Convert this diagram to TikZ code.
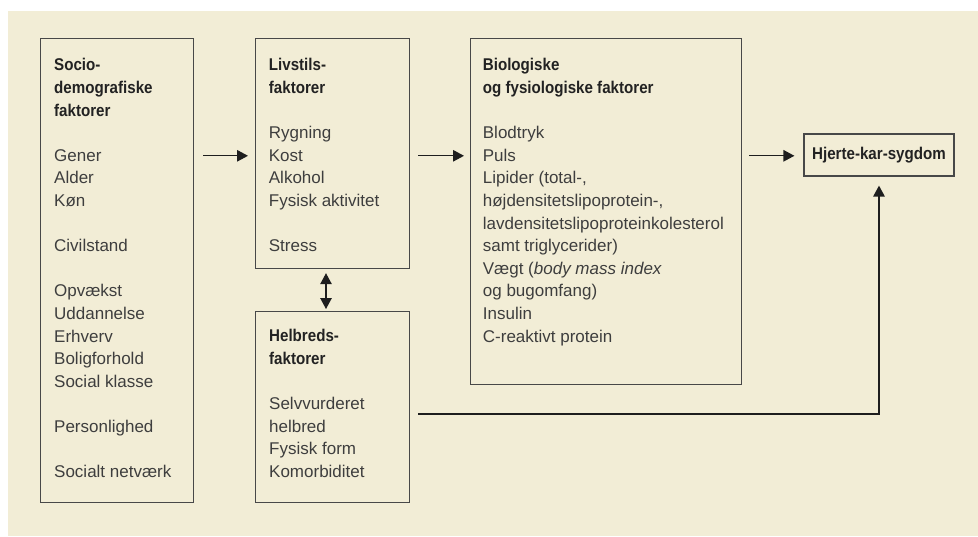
\documentclass[tikz,border=0pt]{standalone}
\usepackage{fontspec}
\setmainfont{Liberation Sans}[BoldFeatures={FakeStretch=0.89}]
\usetikzlibrary{arrows.meta}
\definecolor{bgcol}{RGB}{242,237,214}
\definecolor{txtcol}{RGB}{62,62,62}
\definecolor{hdcol}{RGB}{34,34,34}
\definecolor{boxcol}{RGB}{72,72,72}
\definecolor{arrcol}{RGB}{30,30,30}
\newcommand\hd[1]{{\color{hdcol}\bfseries #1}}
\newcommand\blank{\mbox{}}
\newcommand\fst{\rule{0pt}{16pt}}
\begin{document}
\begin{tikzpicture}[x=1pt,y=-1pt,
  boxnode/.style={draw=boxcol, line width=1.2pt, fill=bgcol, inner sep=0pt, anchor=north west},
  txtnode/.style={anchor=north west, inner sep=0pt, align=left, text=txtcol,
    font=\fontsize{17}{22.6}\selectfont},
  arr/.style={draw=arrcol, line width=1.3pt, -{Triangle[length=11pt,width=11.5pt]}},
  dbl/.style={draw=arrcol, line width=1.3pt, {Triangle[length=11pt,width=11.5pt]}-{Triangle[length=11pt,width=11.5pt]}}]
\useasboundingbox (0,0) rectangle (978,536);
\fill[white] (0,0) rectangle (978,536);
\fill[bgcol] (8,11) rectangle (978,536);

% boxes
\node[boxnode, minimum width=153pt, minimum height=464pt] (b1) at (40,38) {};
\node[boxnode, minimum width=153.7pt, minimum height=230pt] (b2) at (255,38) {};
\node[boxnode, minimum width=153.7pt, minimum height=191pt] (b3) at (255,311) {};
\node[boxnode, minimum width=271pt, minimum height=346pt] (b4) at (470,38) {};
\node[draw=boxcol, line width=1.2pt, fill=bgcol, inner sep=0pt,
  minimum width=150pt, minimum height=42pt,
  font=\fontsize{17}{22.6}\selectfont] (b5) at (879,155) {\hd{Hjerte-kar-sygdom}};

% texts
\node[txtnode] (t1) at (54,54.6) {\fst\hd{Socio-}\\\hd{demografiske}\\\hd{faktorer}\\\blank\\Gener\\Alder\\Køn\\\blank\\Civilstand\\\blank\\Opvækst\\Uddannelse\\Erhverv\\Boligforhold\\Social klasse\\\blank\\Personlighed\\\blank\\Socialt netværk};
\node[txtnode] (t2) at (268.7,54.6) {\fst\hd{Livstils-}\\\hd{faktorer}\\\blank\\Rygning\\Kost\\Alkohol\\Fysisk aktivitet\\\blank\\Stress};
\node[txtnode] (t3) at (269,325.7) {\fst\hd{Helbreds-}\\\hd{faktorer}\\\blank\\Selvvurderet\\helbred\\Fysisk form\\Komorbiditet};
\node[txtnode] (t4) at (482.7,54.6) {\fst\hd{Biologiske}\\\hd{og fysiologiske faktorer}\\\blank\\Blodtryk\\Puls\\Lipider (total-,\\højdensitetslipoprotein-,\\lavdensitetslipoproteinkolesterol\\samt triglycerider)\\Vægt (\textit{body mass index}\\og bugomfang)\\Insulin\\C-reaktivt protein};

% connectors
\coordinate (arow) at (0,155.8);
\coordinate (hrow) at (0,414);
\draw[arr, shorten <=9pt, shorten >=7pt] (b1.east |- arow) -- (b2.west |- arow);
\draw[arr, shorten <=8.3pt, shorten >=6pt] (b2.east |- arow) -- (b4.west |- arow);
\draw[arr, shorten <=7pt, shorten >=9pt] (b4.east |- arow) -- (b5.west |- arow);
\draw[dbl, shorten <=4pt, shorten >=2pt] (b2.south -| 326,0) -- (b3.north -| 326,0);
\draw[arr, shorten <=8.3pt, shorten >=9pt] (b3.east |- hrow) -| (b5.south);
\end{tikzpicture}
\end{document}
